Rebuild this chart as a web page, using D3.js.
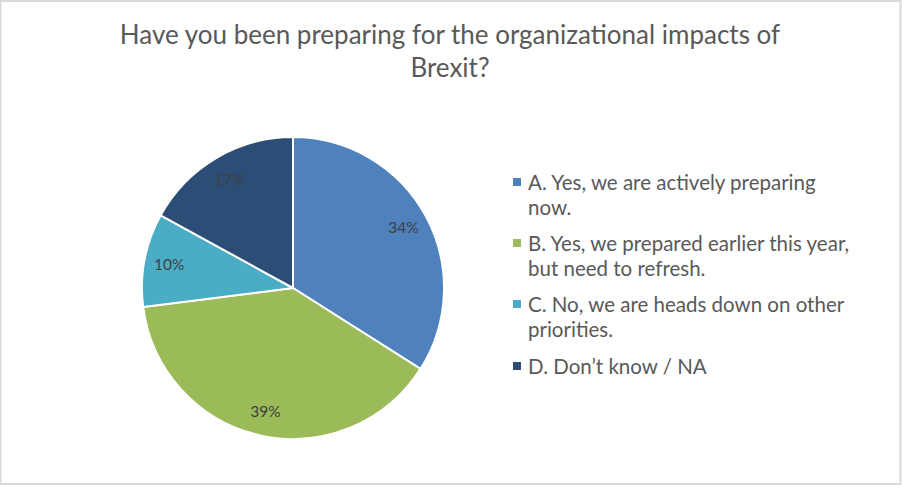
<!DOCTYPE html>
<meta charset="utf-8">
<style>
  body { margin: 0; background: #fff; }
  svg { display: block; }
  .title { font-family: Lato, "Open Sans", sans-serif; fill: #595959; }
  .label { font-family: Lato, "Open Sans", sans-serif; fill: #404040; }
  .legend text { font-family: Lato, "Open Sans", sans-serif; fill: #595959; }
</style>
<body>
<script src="https://cdn.jsdelivr.net/npm/d3@7"></script>
<script>
const titleLines = ['Have you been preparing for the organizational impacts of', 'Brexit?'];

const categories = [
  'A. Yes, we are actively preparing now.',
  'B. Yes, we prepared earlier this year, but need to refresh.',
  'C. No, we are heads down on other priorities.',
  'D. Don\u2019t know / NA'
];
// legend text as it wraps in the picture
const legendLines = [
  ['A. Yes, we are actively preparing', 'now.'],
  ['B. Yes, we prepared earlier this year,', 'but need to refresh.'],
  ['C. No, we are heads down on other', 'priorities.'],
  ['D. Don\u2019t know / NA']
];
const values = [34, 39, 10, 17];
const colors = ['#4f81bd', '#9bbb59', '#4bacc6', '#2c4d75'];

const width = 902, height = 488;
const cx = 293, cy = 288, radius = 151;

const svg = d3.select('body').append('svg')
  .attr('width', width)
  .attr('height', height);

// frame
svg.append('rect')
  .attr('x', 0.5).attr('y', 1)
  .attr('width', 900).attr('height', 483)
  .attr('fill', '#fff')
  .attr('stroke', '#d9d9d9')
  .attr('stroke-width', 2);

// title
svg.append('text')
  .attr('class', 'title')
  .attr('text-anchor', 'middle')
  .style('font-size', '26px')
  .selectAll('tspan')
  .data(titleLines)
  .enter().append('tspan')
    .attr('x', 450)
    .attr('y', (d, i) => 44 + i * 33)
    .text(d => d);

const pie = d3.pie().sort(null).value(d => d);
const arc = d3.arc().innerRadius(0).outerRadius(radius);
const labelArc = d3.arc().innerRadius(126).outerRadius(126);
const total = d3.sum(values);

const g = svg.append('g').attr('transform', `translate(${cx},${cy})`);

const slices = pie(values);

g.selectAll('path')
  .data(slices)
  .enter().append('path')
    .attr('d', arc)
    .attr('fill', (d, i) => colors[i])
    .attr('stroke', '#fff')
    .attr('stroke-width', 2)
    .attr('stroke-linejoin', 'round');

g.selectAll('text.label')
  .data(slices)
  .enter().append('text')
    .attr('class', 'label')
    .attr('text-anchor', 'middle')
    .attr('dy', '0.36em')
    .style('font-size', '15.5px')
    .attr('transform', d => `translate(${labelArc.centroid(d)})`)
    .text(d => Math.round(d.data / total * 100) + '%');

// legend
const legendTop = [190, 251, 312, 374];
const legend = svg.append('g').attr('class', 'legend');

const item = legend.selectAll('g')
  .data(categories)
  .enter().append('g');

item.append('rect')
  .attr('x', 513)
  .attr('y', (d, i) => legendTop[i] - 12)
  .attr('width', 8)
  .attr('height', 8)
  .attr('fill', (d, i) => colors[i]);

item.append('text')
  .style('font-size', '20.5px')
  .each(function(d, i) {
    d3.select(this).selectAll('tspan')
      .data(legendLines[i])
      .enter().append('tspan')
        .attr('x', 528)
        .attr('y', (t, j) => legendTop[i] + j * 25)
        .text(t => t);
  });
</script>
</body>
